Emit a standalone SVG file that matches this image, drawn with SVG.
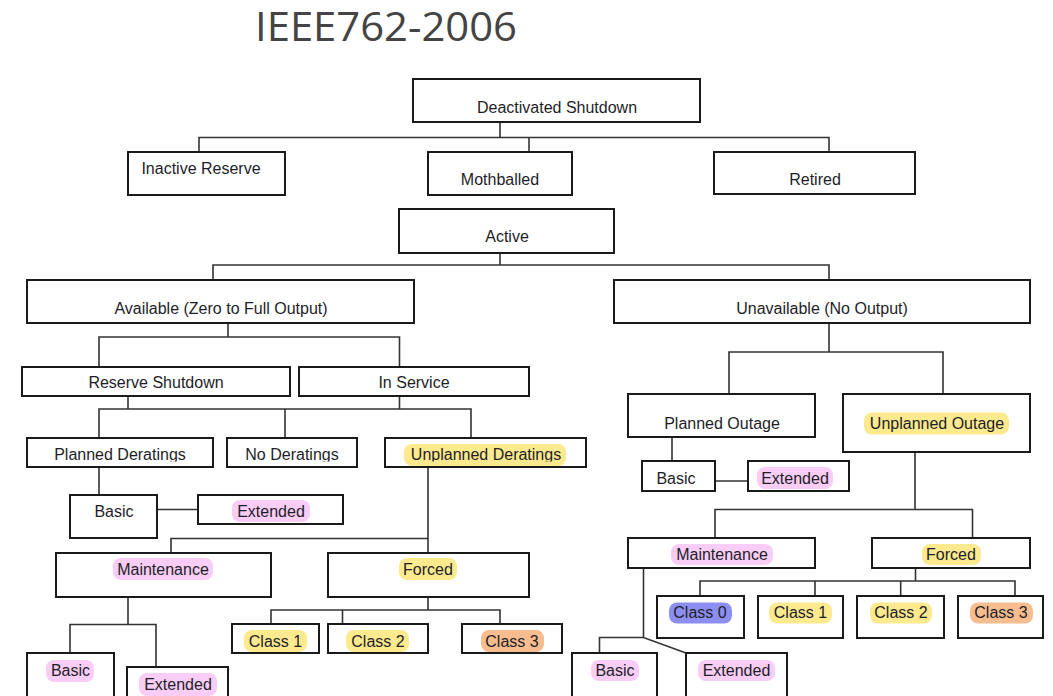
<svg xmlns="http://www.w3.org/2000/svg" width="1053" height="696" viewBox="0 0 1053 696">
<style>
.box{fill:#fff;stroke:#1a1a1a;stroke-width:2}
.lbl{font-family:"Liberation Sans",Arial,sans-serif;font-size:16px;fill:#1e1e28;text-anchor:middle}
.conn{stroke:#333;stroke-width:1.6;fill:none}
.hy{fill:#fde98e}
.hp{fill:#f9cdf6}
.ho{fill:#f8bd8f}
.hb{fill:#8c8ef2}
.title{font-family:"Open Sans","Liberation Sans",sans-serif;font-size:40px;fill:#444}
</style>
<defs>
<clipPath id="derClip"><rect x="0" y="430" width="620" height="31.5"/></clipPath>
</defs>
<rect width="1053" height="696" fill="#fff"/>
<text class="title" x="255" y="41" textLength="262" lengthAdjust="spacingAndGlyphs">IEEE762-2006</text>

<g id="connectors">
<path class="conn" d="M500,122 V137.5 M199,151 V137.5 H829 V152 M529,137.5 V152"/>
<path class="conn" d="M500,253 V265 M213,280 V265 H829 V280"/>
<path class="conn" d="M228,323 V337 M99,367 V337 H399.5 V367"/>
<path class="conn" d="M128,396 V409 M399.5,396 V409 M99,438 V409 H471 V438 M285,409 V438"/>
<path class="conn" d="M99,467 V495 M157,509.5 H198"/>
<path class="conn" d="M428,467 V553 M171,553 V538.5 H428"/>
<path class="conn" d="M128,597 V624.5 M70,653 V624.5 H156 V667"/>
<path class="conn" d="M428,597 V610 M271,624 V610 H500 V624 M342.5,610 V624"/>
<path class="conn" d="M829,323 V352 M729,394 V352 H943 V394"/>
<path class="conn" d="M672,437 V461 M715,481 H748"/>
<path class="conn" d="M915,452 V509.5 M715,538 V509.5 H972.5 V538"/>
<path class="conn" d="M915.5,568 V581 M700,596 V581 H1015 V596 M815,581 V596 M900.7,581 V596"/>
<path class="conn" d="M643.5,568 V637.5 M599.5,653 V637.5 H643.5 L686,653"/>
</g>

<g id="deactivated"><rect class="box" x="413" y="79" width="287" height="43"/><text class="lbl" x="557" y="113">Deactivated Shutdown</text></g>
<g id="inactive"><rect class="box" x="128" y="152" width="157" height="43"/><text class="lbl" x="201" y="174">Inactive Reserve</text></g>
<g id="mothballed"><rect class="box" x="428" y="152" width="144" height="43"/><text class="lbl" x="500" y="185">Mothballed</text></g>
<g id="retired"><rect class="box" x="714" y="152" width="201" height="42"/><text class="lbl" x="815" y="185">Retired</text></g>
<g id="active"><rect class="box" x="399" y="209" width="215" height="44"/><text class="lbl" x="507" y="242">Active</text></g>

<g id="available"><rect class="box" x="27" y="280" width="387" height="43"/><text class="lbl" x="221" y="314">Available (Zero to Full Output)</text></g>
<g id="unavailable"><rect class="box" x="614" y="280" width="416" height="43"/><text class="lbl" x="822" y="314">Unavailable (No Output)</text></g>

<g id="reserve-shutdown"><rect class="box" x="22" y="367" width="268" height="29"/><text class="lbl" x="156" y="388">Reserve Shutdown</text></g>
<g id="in-service"><rect class="box" x="299" y="367" width="230" height="29"/><text class="lbl" x="414" y="388">In Service</text></g>

<g id="planned-deratings"><rect class="box" x="27" y="438" width="186" height="29"/><text class="lbl" x="120" y="460" clip-path="url(#derClip)">Planned Deratings</text></g>
<g id="no-deratings"><rect class="box" x="227" y="438" width="130" height="29"/><text class="lbl" x="292" y="460" clip-path="url(#derClip)">No Deratings</text></g>
<g id="unplanned-deratings"><rect class="box" x="385" y="438" width="201" height="29"/><rect class="hy" x="404" y="444" width="162" height="22" rx="8"/><text class="lbl" x="486" y="460" clip-path="url(#derClip)">Unplanned Deratings</text></g>

<g id="basic-pd"><rect class="box" x="70" y="495" width="87" height="43"/><text class="lbl" x="114" y="516.5">Basic</text></g>
<g id="extended-pd"><rect class="box" x="198" y="495" width="145" height="29"/><rect class="hp" x="232" y="500" width="78" height="22" rx="8"/><text class="lbl" x="271" y="516.5">Extended</text></g>

<g id="maintenance-ud"><rect class="box" x="56" y="553" width="215" height="44"/><rect class="hp" x="113" y="558" width="100" height="22" rx="8"/><text class="lbl" x="163" y="574.5">Maintenance</text></g>
<g id="forced-ud"><rect class="box" x="328" y="553" width="201" height="44"/><rect class="hy" x="399" y="558" width="58" height="22" rx="8"/><text class="lbl" x="428" y="574.5">Forced</text></g>

<g id="class1-ud"><rect class="box" x="232" y="624" width="87" height="29"/><rect class="hy" x="244" y="630" width="63" height="22" rx="8"/><text class="lbl" x="275.5" y="646.5">Class 1</text></g>
<g id="class2-ud"><rect class="box" x="328" y="624" width="100" height="29"/><rect class="hy" x="346" y="630" width="63" height="22" rx="8"/><text class="lbl" x="378" y="646.5">Class 2</text></g>
<g id="class3-ud"><rect class="box" x="462" y="624" width="100" height="29"/><rect class="ho" x="481" y="630" width="63" height="22" rx="8"/><text class="lbl" x="512" y="646.5">Class 3</text></g>

<g id="basic-ud"><rect class="box" x="27" y="653" width="87" height="50"/><rect class="hp" x="46" y="660" width="48" height="22" rx="8"/><text class="lbl" x="70.5" y="675.5">Basic</text></g>
<g id="extended-ud"><rect class="box" x="127" y="667" width="101" height="40"/><rect class="hp" x="139" y="673" width="78" height="23" rx="8"/><text class="lbl" x="178" y="689.5">Extended</text></g>

<g id="planned-outage"><rect class="box" x="628" y="394" width="187" height="43"/><text class="lbl" x="722" y="428.5">Planned Outage</text></g>
<g id="unplanned-outage"><rect class="box" x="843" y="394" width="187" height="58"/><rect class="hy" x="864" y="412.5" width="145" height="22" rx="8"/><text class="lbl" x="937" y="428.5">Unplanned Outage</text></g>

<g id="basic-po"><rect class="box" x="642" y="461" width="73" height="30"/><text class="lbl" x="676" y="484">Basic</text></g>
<g id="extended-po"><rect class="box" x="748" y="461" width="101" height="30"/><rect class="hp" x="757" y="467" width="76" height="22" rx="8"/><text class="lbl" x="795" y="484">Extended</text></g>

<g id="maintenance-uo"><rect class="box" x="628" y="538" width="187" height="30"/><rect class="hp" x="671" y="544" width="102" height="21" rx="8"/><text class="lbl" x="722" y="560">Maintenance</text></g>
<g id="forced-uo"><rect class="box" x="872" y="538" width="158" height="30"/><rect class="hy" x="922" y="544" width="59" height="21" rx="8"/><text class="lbl" x="951" y="560">Forced</text></g>

<g id="class0-uo"><rect class="box" x="657" y="596" width="87" height="42"/><rect class="hb" x="669" y="602.5" width="63" height="21" rx="8"/><text class="lbl" x="700" y="617.5">Class 0</text></g>
<g id="class1-uo"><rect class="box" x="758" y="596" width="85" height="42"/><rect class="hy" x="769" y="602.5" width="63" height="21" rx="8"/><text class="lbl" x="800.5" y="617.5">Class 1</text></g>
<g id="class2-uo"><rect class="box" x="857" y="596" width="87" height="42"/><rect class="hy" x="870" y="602.5" width="62" height="21" rx="8"/><text class="lbl" x="901" y="617.5">Class 2</text></g>
<g id="class3-uo"><rect class="box" x="958" y="596" width="85" height="42"/><rect class="ho" x="970" y="602.5" width="63" height="21" rx="8"/><text class="lbl" x="1001" y="617.5">Class 3</text></g>

<g id="basic-mo"><rect class="box" x="572" y="653" width="85" height="50"/><rect class="hp" x="591" y="660" width="48" height="21" rx="8"/><text class="lbl" x="615" y="675.5">Basic</text></g>
<g id="extended-mo"><rect class="box" x="686" y="653" width="101" height="50"/><rect class="hp" x="698" y="660" width="77" height="21" rx="8"/><text class="lbl" x="736.5" y="675.5">Extended</text></g>
</svg>
